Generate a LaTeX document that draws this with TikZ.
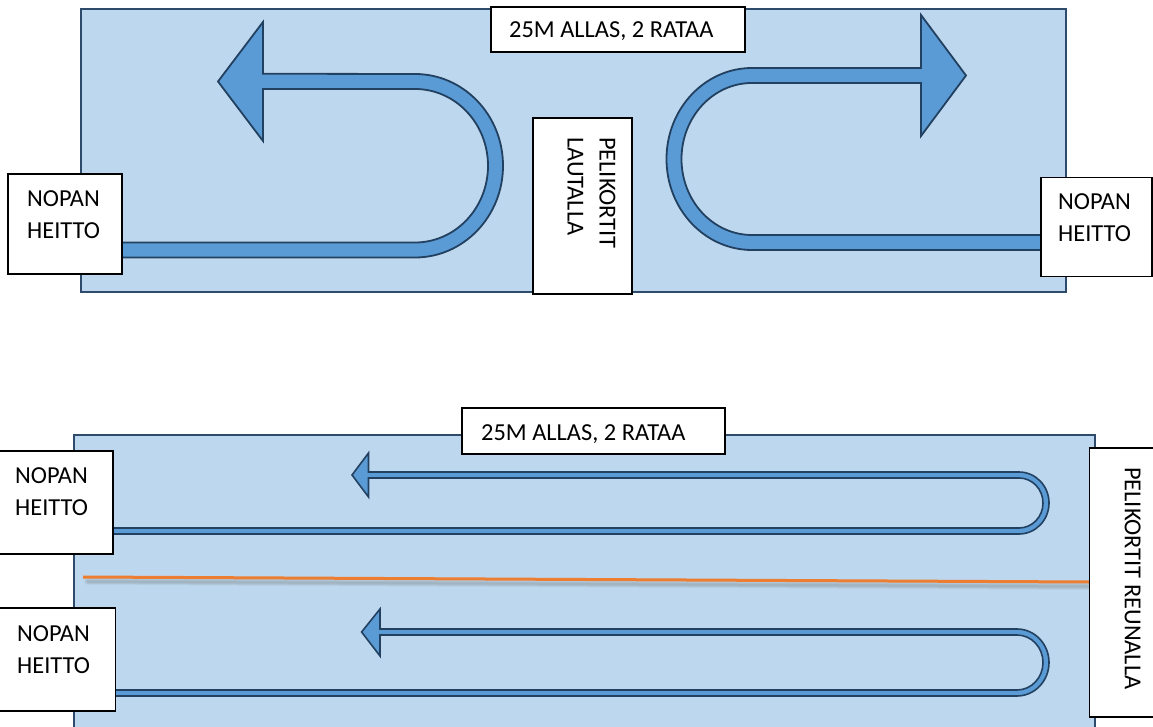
\documentclass[tikz,border=0pt]{standalone}
\usepackage{fontspec}
\setmainfont{Carlito}
\definecolor{pool}{HTML}{BDD7EE}
\definecolor{poolline}{HTML}{2E4B6B}
\definecolor{arrowfill}{HTML}{5B9BD5}
\definecolor{arrowline}{HTML}{22405F}
\definecolor{rope}{HTML}{ED7D31}
\tikzset{
  poolrect/.style={fill=pool, draw=poolline, line width=2pt},
  bigarrow/.style={fill=arrowfill, draw=arrowline, line width=1.8pt, line join=miter},
  thinarrow/.style={fill=arrowfill, draw=arrowline, line width=1.6pt, line join=miter},
  labelbox/.style={fill=white, draw=black, line width=1.2pt},
  lbl/.style={inner sep=0pt, anchor=west, align=left, font={\fontsize{24.4}{32}\selectfont}},
}
\begin{document}
\begin{tikzpicture}[x=1pt,y=1pt]
\useasboundingbox (0,0) rectangle (1153,726);

% ---------- upper pool: two U-turn lanes ----------
\path[poolrect] (81,434) rectangle (1066,717);

% left U-turn lane, arrow pointing left
\path[bigarrow] (115,468.5) -- (415,468.5)
  arc[start angle=-90, end angle=90, x radius=88, y radius=91.75]
  -- (263,652.25) -- (263,704) -- (218,644.5) -- (263,585) -- (263,637)
  -- (415,637)
  arc[start angle=90, end angle=-90, x radius=73, y radius=76.75]
  -- (115,483.5) -- cycle;

% right U-turn lane, arrow pointing right
\path[bigarrow] (1050,476) -- (752,476)
  arc[start angle=-90, end angle=-270, x radius=85.5, y radius=91]
  -- (921,658) -- (921,711) -- (966,650.5) -- (921,590) -- (921,643)
  -- (752,643)
  arc[start angle=90, end angle=270, x radius=70.5, y radius=76]
  -- (1050,491) -- cycle;

\path[labelbox] (491,674) rectangle (745,719);
\node[lbl] (title1) at (509,695) {25M ALLAS, 2 RATAA};

\path[labelbox] (8,452) rectangle (122,552);
\node[lbl] (dieA) at (27,511) {NOPAN\\HEITTO};

\path[labelbox] (1041,449.3) rectangle (1152,548.3);
\node[lbl] (dieB) at (1058,508.7) {NOPAN\\HEITTO};

\path[labelbox] (533,432) rectangle (632,608);
\node[lbl, rotate=-90] (cardsA) at (591.5,589) {PELIKORTIT\\LAUTALLA};

% ---------- lower pool: two lanes with a rope between ----------
\path[poolrect] (73.5,-5) rectangle (1094.5,291);

% lane rope with its soft shadow
\foreach \o/\w/\a in {-3.5/9/0.06, -4/6.5/0.09, -4.5/4/0.13, -4.5/2/0.12}{
  \draw[line width=\w pt, black!55, opacity=\a, line cap=round]
    (88,149+\o) -- (1089,144+\o);
}
\draw[rope, line width=3pt] (83,149) -- (1089,144);

% upper lane
\path[thinarrow] (105,192) -- (1019,192)
  arc[start angle=-90, end angle=90, x radius=30, y radius=31]
  -- (368.5,254) -- (368.5,273) -- (352,251) -- (368.5,229) -- (368.5,248)
  -- (1019,248)
  arc[start angle=90, end angle=-90, x radius=24, y radius=25]
  -- (105,198) -- cycle;

% lower lane
\path[thinarrow] (105,30) -- (1017,30)
  arc[start angle=-90, end angle=90, x radius=32, y radius=33.5]
  -- (380,97) -- (380,117) -- (361.6,94) -- (380,70) -- (380,91)
  -- (1017,91)
  arc[start angle=90, end angle=-90, x radius=26, y radius=27.5]
  -- (105,36) -- cycle;

\path[labelbox] (462,272) rectangle (725,318);
\node[lbl] (title2) at (481,292) {25M ALLAS, 2 RATAA};

\path[labelbox] (-2,172) rectangle (113,275);
\node[lbl] (dieC) at (15,234) {NOPAN\\HEITTO};

\path[labelbox] (-2,15) rectangle (115.5,118);
\node[lbl] (dieD) at (17,76.5) {NOPAN\\HEITTO};

\path[labelbox] (1089.6,9) rectangle (1160,278);
\node[lbl, rotate=-90] (cardsB) at (1132.6,259) {PELIKORTIT REUNALLA};
\end{tikzpicture}
\end{document}
